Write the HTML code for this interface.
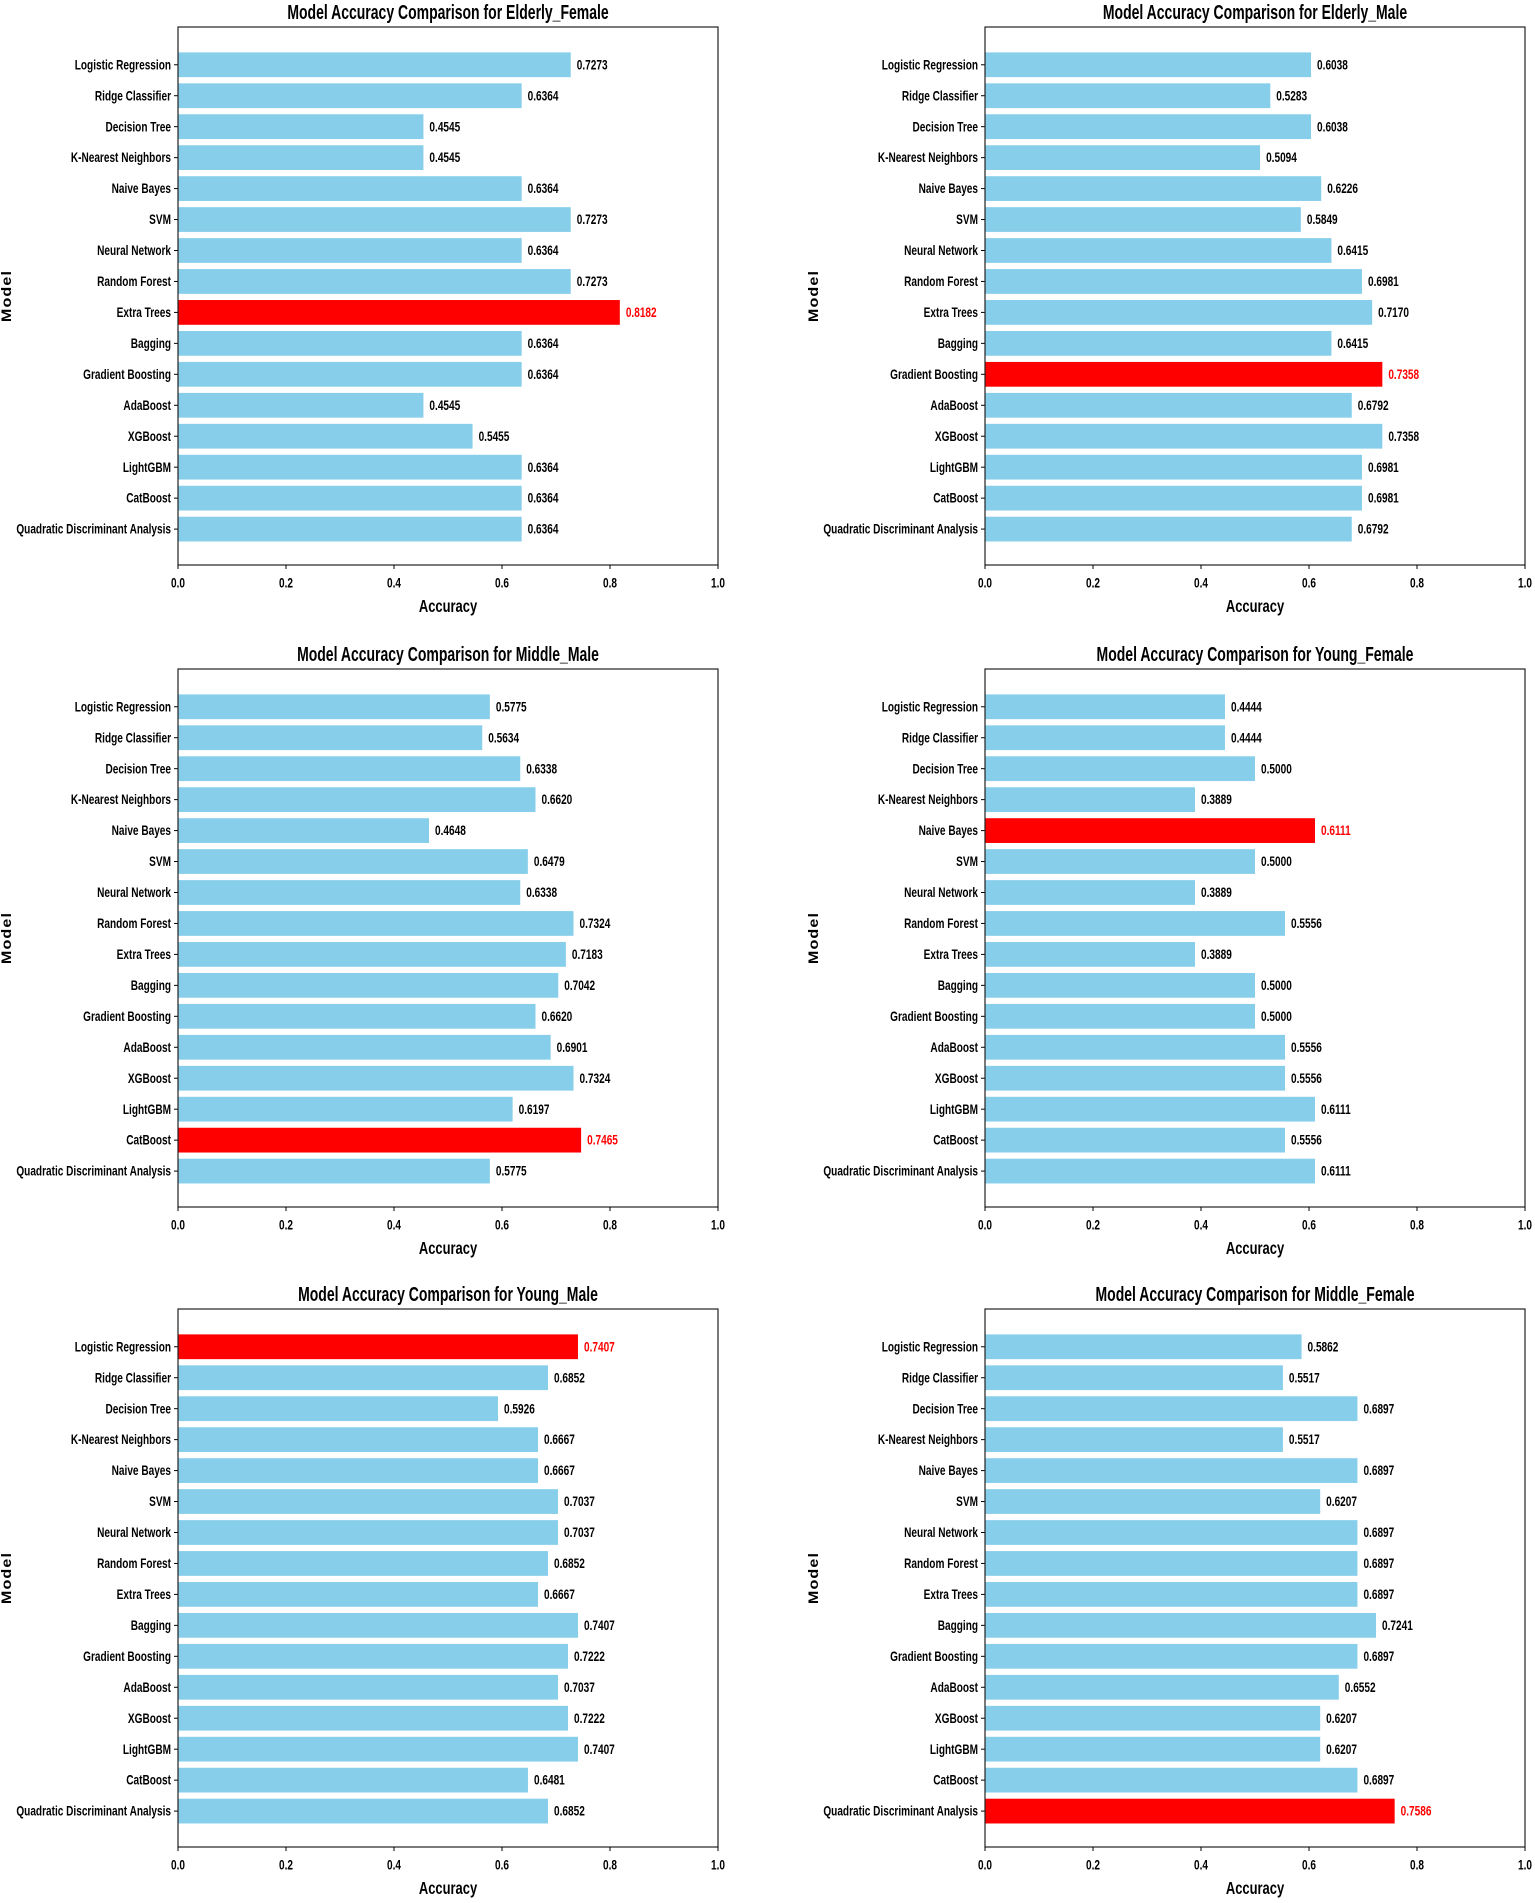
<!DOCTYPE html>
<html><head><meta charset="utf-8">
<style>
html,body{margin:0;padding:0;background:#fff;}
svg{display:block;}
text{font-family:"Liberation Sans",sans-serif;}
</style></head>
<body>
<svg id="root" width="1535" height="1903" viewBox="0 0 1535 1903" xmlns="http://www.w3.org/2000/svg"></svg>
<script>
const categories = ["Logistic Regression","Ridge Classifier","Decision Tree","K-Nearest Neighbors","Naive Bayes","SVM","Neural Network","Random Forest","Extra Trees","Bagging","Gradient Boosting","AdaBoost","XGBoost","LightGBM","CatBoost","Quadratic Discriminant Analysis"];
const xTicks = [0,0.2,0.4,0.6,0.8,1.0];
const tickLabels = ["0.0","0.2","0.4","0.6","0.8","1.0"];
const titles = ["Elderly_Female","Elderly_Male","Middle_Male","Young_Female","Young_Male","Middle_Female"];
const elderlyFemale = [0.7273,0.6364,0.4545,0.4545,0.6364,0.7273,0.6364,0.7273,0.8182,0.6364,0.6364,0.4545,0.5455,0.6364,0.6364,0.6364];
const elderlyMale = [0.6038,0.5283,0.6038,0.5094,0.6226,0.5849,0.6415,0.6981,0.7170,0.6415,0.7358,0.6792,0.7358,0.6981,0.6981,0.6792];
const middleMale = [0.5775,0.5634,0.6338,0.6620,0.4648,0.6479,0.6338,0.7324,0.7183,0.7042,0.6620,0.6901,0.7324,0.6197,0.7465,0.5775];
const youngFemale = [0.4444,0.4444,0.5000,0.3889,0.6111,0.5000,0.3889,0.5556,0.3889,0.5000,0.5000,0.5556,0.5556,0.6111,0.5556,0.6111];
const youngMale = [0.7407,0.6852,0.5926,0.6667,0.6667,0.7037,0.7037,0.6852,0.6667,0.7407,0.7222,0.7037,0.7222,0.7407,0.6481,0.6852];
const middleFemale = [0.5862,0.5517,0.6897,0.5517,0.6897,0.6207,0.6897,0.6897,0.6897,0.7241,0.6897,0.6552,0.6207,0.6207,0.6897,0.7586];
const seriesList = [elderlyFemale,elderlyMale,middleMale,youngFemale,youngMale,middleFemale];

const NS = "http://www.w3.org/2000/svg";
const root = document.getElementById('root');
function mk(tag, attrs, parent){
  const e = document.createElementNS(NS, tag);
  for (const k in attrs) e.setAttribute(k, attrs[k]);
  parent.appendChild(e);
  return e;
}
function txt(parent, s, x, y, size, anchor, color, weight, sx){
  const t = mk('text', {transform:`translate(${x},${y}) scale(${sx},1)`, 'font-size':size, 'text-anchor':anchor, fill:color, 'font-weight':weight, 'dominant-baseline':'central'}, parent);
  t.textContent = s;
  return t;
}
const colX = [178, 985];
const rowY = [27, 669, 1309];
const PW = 540, PH = 538;
for (let i = 0; i < 6; i++) {
  const vals = seriesList[i];
  const L = colX[i % 2], T = rowY[Math.floor(i / 2)];
  const g = mk('g', {}, root);
  
  
  const xs = v => L + v * PW;
  const yMin = -1.22, yMax = 16.16;
  const ys = idx => T + (idx - yMin) / (yMax - yMin) * PH;
  const unit = PH / (yMax - yMin);
  let best = 0;
  for (let k = 1; k < vals.length; k++) if (vals[k] > vals[best]) best = k;
  const t = txt(g, 'Model Accuracy Comparison for ' + titles[i], L + PW/2, T - 15, 20, 'middle', '#000', 'bold', 0.7);
  
  
  categories.forEach((c, k) => {
    const y = ys(k);
    const hl = k === best;
    const b = mk('rect', {x: xs(0), y: y - 0.4*unit, width: xs(vals[k]) - xs(0), height: 0.8*unit, fill: hl ? '#ff0000' : '#87ceeb'}, g);
    
    
    const vl = txt(g, vals[k].toFixed(4), xs(vals[k]) + 6, y, 14, 'start', hl ? '#ff0000' : '#000', 'bold', 0.72);
    
    
    mk('line', {x1: L - 4, x2: L, y1: y, y2: y, stroke: '#000', 'stroke-width': 1}, g);
    const cl = txt(g, c, L - 7, y, 14, 'end', '#000', 'bold', 0.72);
    
    
  });
  const f = mk('rect', {x: L, y: T, width: PW, height: PH, fill: 'none', stroke: '#222', 'stroke-width': 1.2}, g);
  
  
  xTicks.forEach((v, k) => {
    mk('line', {x1: xs(v), x2: xs(v), y1: T + PH, y2: T + PH + 4, stroke: '#000', 'stroke-width': 1}, g);
    const tl = txt(g, tickLabels[k], xs(v), T + PH + 18, 14, 'middle', '#000', 'bold', 0.72);
    
    
  });
  const xl = txt(g, 'Accuracy', L + PW/2, T + PH + 42, 18, 'middle', '#000', 'bold', 0.72);
  
  
  const yl = mk('text', {transform: `translate(${L - 171},${T + PH/2}) rotate(-90) scale(1.15,1)`, 'font-size': 14, 'text-anchor': 'middle', 'font-weight': 'bold', 'dominant-baseline': 'central', 'font-family': '"DejaVu Sans",sans-serif', 'letter-spacing': '1'}, g);
  yl.textContent = 'Model';
  
  
}
</script>
</body></html>
